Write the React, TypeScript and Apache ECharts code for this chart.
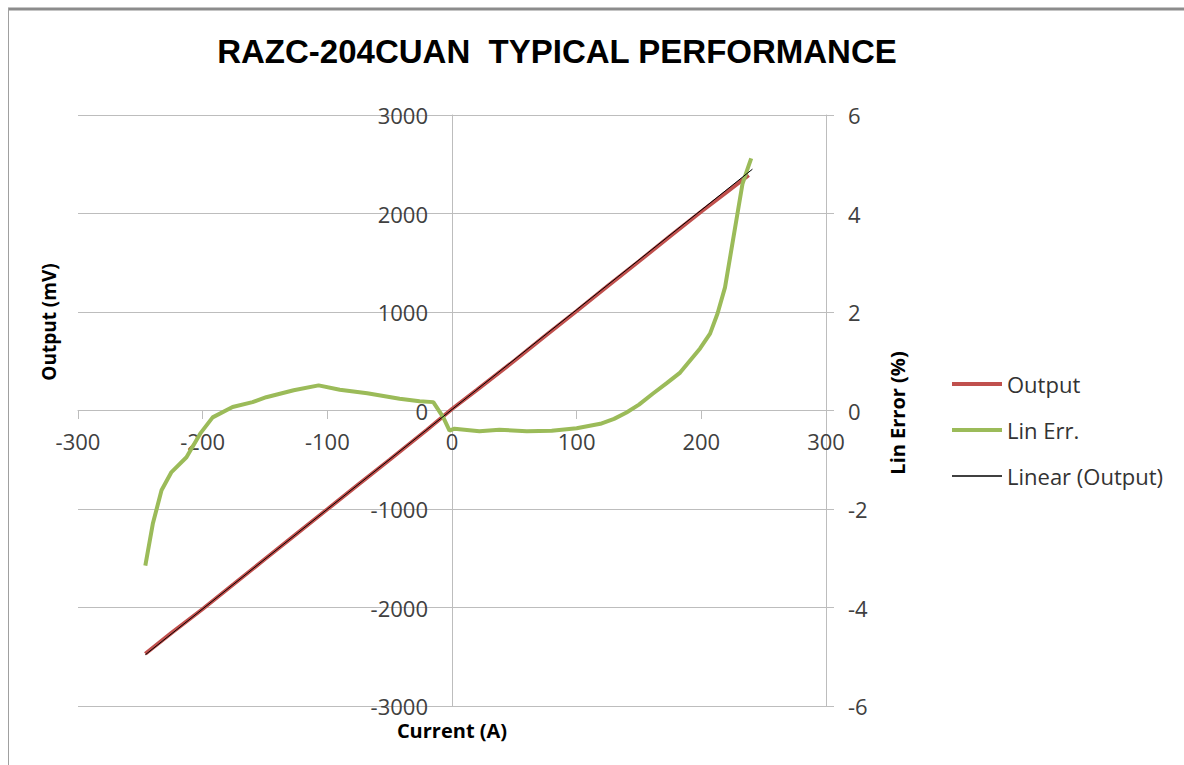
import React, { useEffect, useRef } from "react";
import * as echarts from "echarts";

const chartTitle = "RAZC-204CUAN  TYPICAL PERFORMANCE";
const seriesNames = ["Output", "Lin Err.", "Linear (Output)"];
const seriesColors = ["#c0504d", "#9bbb59", "#000000"];
const seriesWidths = [4, 4, 1];

const outputCurrent = [-246, -225, -200, -175, -150, -125, -100, -75, -50, -20, 0, 20, 50, 75, 100, 125, 150, 175, 200, 220, 238];
const outputMv = [-2470, -2258, -2015, -1762, -1508, -1255, -1003, -750, -500, -195, 15, 210, 505, 760, 1010, 1265, 1515, 1770, 2020, 2215, 2390];

const linErrCurrent = [-246, -240, -233, -225, -213, -202, -192, -176, -160, -149, -127, -107, -90, -68, -42, -26, -15, -7, -2, 2, 22, 38, 60, 80, 100, 119, 130, 140, 150, 161, 172, 183, 199, 207, 213, 219, 224, 229, 233, 237, 240];
const linErrPct = [-3.15, -2.3, -1.62, -1.25, -0.95, -0.47, -0.14, 0.07, 0.17, 0.27, 0.41, 0.51, 0.42, 0.35, 0.24, 0.19, 0.17, -0.14, -0.41, -0.37, -0.42, -0.39, -0.42, -0.41, -0.36, -0.27, -0.17, -0.04, 0.12, 0.34, 0.55, 0.77, 1.26, 1.56, 1.97, 2.5, 3.25, 4.0, 4.6, 4.9, 5.12];

const trendCurrent = [-246, 241];
const trendMv = [-2480, 2450];

const pairs = (xs: number[], ys: number[]) => xs.map((x, i) => [x, ys[i]]);

const FONT = "'Open Sans', 'Noto Sans', sans-serif";
const GRID = "#bdbdbd";

export default function App() {
  const ref = useRef<HTMLDivElement>(null);
  useEffect(() => {
    document.body.style.margin = "0";
    document.body.style.overflow = "hidden";
    const chart = echarts.init(ref.current!, undefined, { renderer: "svg" });
    const labelStyle = {
      color: "#404040",
      fontFamily: FONT,
      fontSize: 22,
      formatter: (v: number) => String(v),
    };
    const legendGraphics: any[] = [];
    seriesNames.forEach((name, i) => {
      const y = 384 + i * 46;
      legendGraphics.push({
        type: "line",
        shape: { x1: 952, y1: y, x2: 1002, y2: y },
        style: { stroke: seriesColors[i], lineWidth: seriesWidths[i] === 1 ? 1.5 : seriesWidths[i] },
      });
      legendGraphics.push({
        type: "text",
        x: 1007,
        y,
        style: {
          text: name,
          fill: "#333",
          font: `22px ${FONT}`,
          textAlign: "left",
          textVerticalAlign: "middle",
        },
      });
    });
    chart.setOption({
      animation: false,
      backgroundColor: "#fff",
      grid: { left: 78, right: 358, top: 115, bottom: 59, containLabel: false },
      xAxis: {
        type: "value",
        min: -300,
        max: 300,
        interval: 100,
        position: "bottom",
        offset: -296,
        axisLine: { show: true, onZero: false, lineStyle: { color: GRID, width: 1 } },
        axisTick: { show: true, inside: false, length: 9, lineStyle: { color: GRID } },
        axisLabel: { ...labelStyle, margin: 20 },
        splitLine: { show: false },
      },
      yAxis: [
        {
          type: "value",
          min: -3000,
          max: 3000,
          interval: 1000,
          position: "left",
          offset: -374,
          axisLine: { show: true, onZero: false, lineStyle: { color: GRID, width: 1 } },
          axisTick: { show: false },
          axisLabel: { ...labelStyle, margin: 24 },
          splitLine: { show: true, lineStyle: { color: GRID, width: 1 } },
        },
        {
          type: "value",
          min: -6,
          max: 6,
          interval: 2,
          position: "right",
          axisLine: { show: true, onZero: false, lineStyle: { color: GRID, width: 1 } },
          axisTick: { show: true, inside: false, length: 8, lineStyle: { color: GRID } },
          axisLabel: { ...labelStyle, margin: 22 },
          splitLine: { show: false },
        },
      ],
      series: [
        {
          name: seriesNames[0],
          type: "line",
          data: pairs(outputCurrent, outputMv),
          yAxisIndex: 0,
          symbol: "none",
          lineStyle: { color: seriesColors[0], width: seriesWidths[0] },
          itemStyle: { color: seriesColors[0] },
        },
        {
          name: seriesNames[1],
          type: "line",
          data: pairs(linErrCurrent, linErrPct),
          yAxisIndex: 1,
          symbol: "none",
          lineStyle: { color: seriesColors[1], width: seriesWidths[1] },
          itemStyle: { color: seriesColors[1] },
        },
        {
          name: seriesNames[2],
          type: "line",
          data: pairs(trendCurrent, trendMv),
          yAxisIndex: 0,
          symbol: "none",
          lineStyle: { color: seriesColors[2], width: seriesWidths[2] },
          itemStyle: { color: seriesColors[2] },
        },
      ],
      graphic: [
        { type: "line", shape: { x1: 8, y1: 9, x2: 1184, y2: 9 }, style: { stroke: "#8c8c8c", lineWidth: 3 } },
        { type: "line", shape: { x1: 8.5, y1: 8, x2: 8.5, y2: 765 }, style: { stroke: "#a0a0a0", lineWidth: 1 } },
        {
          type: "text",
          x: 557,
          y: 51,
          style: {
            text: chartTitle,
            fill: "#000",
            font: "bold 33px 'Liberation Sans', Arial, sans-serif",
            textAlign: "center",
            textVerticalAlign: "middle",
          },
        },
        {
          type: "text",
          x: 49,
          y: 322,
          rotation: Math.PI / 2,
          style: {
            text: "Output (mV)",
            fill: "#000",
            font: `bold 19px ${FONT}`,
            textAlign: "center",
            textVerticalAlign: "middle",
          },
        },
        {
          type: "text",
          x: 897,
          y: 413,
          rotation: Math.PI / 2,
          style: {
            text: "Lin Error (%)",
            fill: "#000",
            font: `bold 20px ${FONT}`,
            textAlign: "center",
            textVerticalAlign: "middle",
          },
        },
        {
          type: "text",
          x: 452,
          y: 730,
          style: {
            text: "Current (A)",
            fill: "#000",
            font: `bold 20px ${FONT}`,
            textAlign: "center",
            textVerticalAlign: "middle",
          },
        },
        ...legendGraphics,
      ],
    });
    return () => chart.dispose();
  }, []);
  return <div ref={ref} style={{ width: 1184, height: 765 }} />;
}
